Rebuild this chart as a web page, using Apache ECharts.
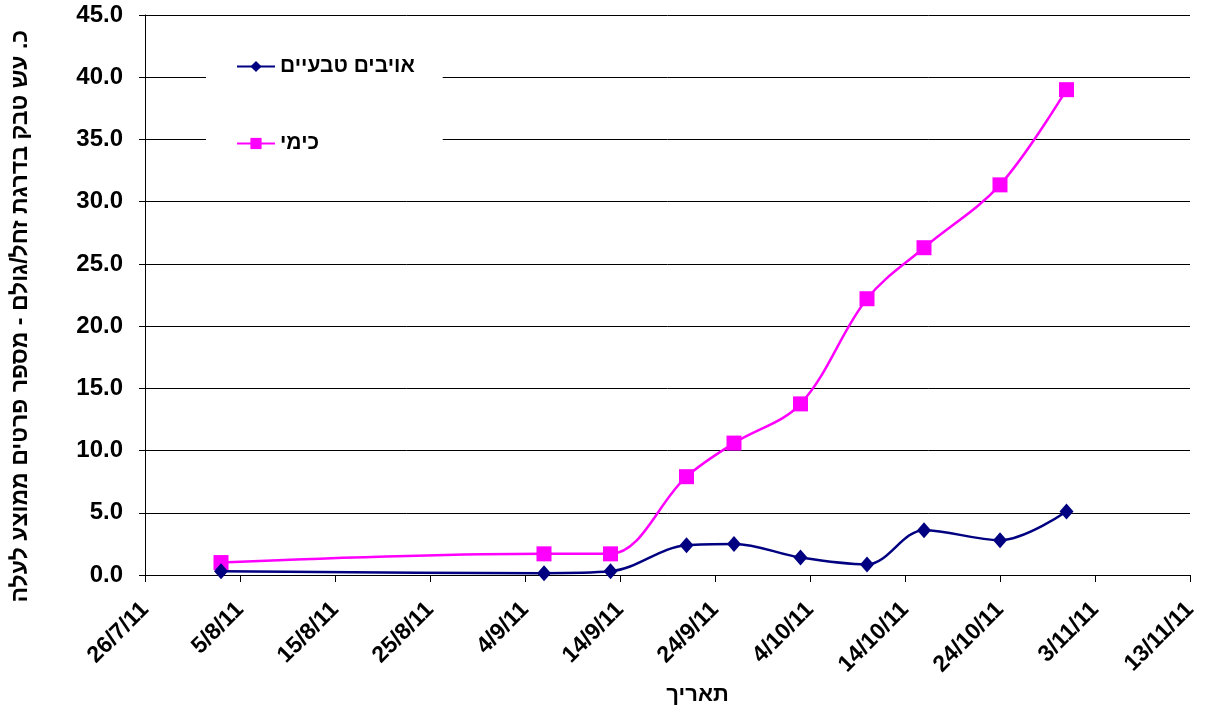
<!DOCTYPE html>
<html>
<head>
<meta charset="utf-8">
<script src="https://cdn.jsdelivr.net/npm/echarts@6/dist/echarts.min.js"></script>
<style>
  html, body { margin: 0; padding: 0; background: #fff; }
  #chart { width: 1209px; height: 713px; }
</style>
</head>
<body>
<div id="chart"></div>
<script>
// Sampling dates (d/m/yy)
const sampleDates = ['3/8/11', '6/9/11', '13/9/11', '21/9/11', '26/9/11', '3/10/11', '10/10/11', '16/10/11', '24/10/11', '31/10/11'];
// Average individuals per leaf
const naturalEnemies = [0.3, 0.15, 0.3, 2.4, 2.5, 1.4, 0.85, 3.6, 2.8, 5.1];
const chemical = [1.0, 1.7, 1.7, 7.9, 10.6, 13.75, 22.2, 26.3, 31.35, 39.0];
// Axis tick labels (every 10 days from the start date)
const xTickLabels = ['26/7/11', '5/8/11', '15/8/11', '25/8/11', '4/9/11', '14/9/11', '24/9/11', '4/10/11', '14/10/11', '24/10/11', '3/11/11', '13/11/11'];
const seriesNames = ['אויבים טבעיים', 'כימי'];
const yAxisTitle = 'כ. עש טבק בדרגת זחל/גולם - מספר פרטים ממוצע לעלה';
const xAxisTitle = 'תאריך';

function parseDate(s) {
  const [d, m, y] = s.split('/').map(Number);
  return Date.UTC(2000 + y, m - 1, d);
}
const origin = parseDate(xTickLabels[0]);
const dayOffset = s => Math.round((parseDate(s) - origin) / 86400000);
const xs = sampleDates.map(dayOffset);
const xMax = dayOffset(xTickLabels[xTickLabels.length - 1]);

const FONT = '"Liberation Sans", Arial, "DejaVu Sans", sans-serif';

const chart = echarts.init(document.getElementById('chart'));
chart.setOption({
  backgroundColor: '#ffffff',
  animation: false,
  textStyle: { fontFamily: FONT },
  grid: { left: 145, right: 19, top: 15, bottom: 138, containLabel: false },
  legend: {
    orient: 'vertical',
    left: 206,
    top: 40,
    backgroundColor: '#ffffff',
    padding: [16, 28, 16, 30],
    itemGap: 56,
    itemWidth: 38,
    itemHeight: 14,
    data: seriesNames,
    textStyle: { fontFamily: FONT, fontWeight: 'bold', fontSize: 21, color: '#000' }
  },
  // Vertical axis title, centred on the chart area
  graphic: [{
    type: 'text',
    left: 9,
    top: 30,
    rotation: Math.PI / 2,
    style: {
      text: yAxisTitle,
      fontFamily: FONT,
      fontWeight: 'bold',
      fontSize: 23,
      fill: '#000'
    }
  }],
  xAxis: {
    type: 'value',
    min: 0,
    max: xMax,
    interval: 10,
    name: xAxisTitle,
    nameLocation: 'middle',
    nameGap: 108,
    nameTextStyle: { fontFamily: FONT, fontWeight: 'bold', fontSize: 22, color: '#000', padding: [0, 0, 0, 60] },
    axisLine: { show: true, lineStyle: { color: '#000', width: 1 } },
    axisTick: { show: true, length: 7, lineStyle: { color: '#000' } },
    splitLine: { show: false },
    axisLabel: {
      rotate: 45,
      margin: 31,
      fontFamily: FONT,
      fontWeight: 'bold',
      fontSize: 23,
      color: '#000',
      formatter: v => xTickLabels[Math.round(v / 10)] || ''
    }
  },
  yAxis: {
    type: 'value',
    min: 0,
    max: 45,
    interval: 5,
    axisLine: { show: true, lineStyle: { color: '#000', width: 1 } },
    axisTick: { show: true, inside: false, length: 6, lineStyle: { color: '#000' } },
    splitLine: { show: true, lineStyle: { color: '#000', width: 1 } },
    axisLabel: {
      margin: 22,
      fontFamily: FONT,
      fontWeight: 'bold',
      fontSize: 24,
      color: '#000',
      formatter: v => v.toFixed(1)
    }
  },
  series: [
    {
      name: seriesNames[0],
      type: 'line',
      smooth: 0.35,
      symbol: 'diamond',
      symbolSize: [14, 16],
      z: 3,
      itemStyle: { color: '#000080' },
      lineStyle: { color: '#000080', width: 2.5 },
      data: xs.map((x, i) => [x, naturalEnemies[i]])
    },
    {
      name: seriesNames[1],
      type: 'line',
      smooth: 0.35,
      symbol: 'rect',
      symbolSize: 15,
      z: 2,
      itemStyle: { color: '#ff00ff' },
      lineStyle: { color: '#ff00ff', width: 2.5 },
      data: xs.map((x, i) => [x, chemical[i]])
    }
  ]
});
</script>
</body>
</html>
